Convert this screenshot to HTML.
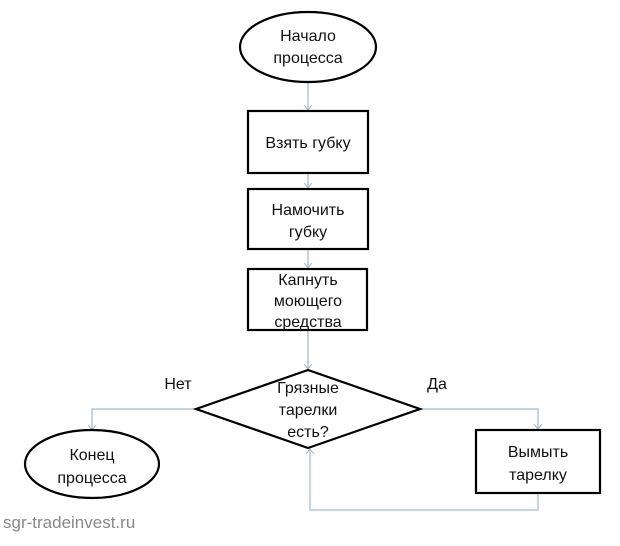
<!DOCTYPE html>
<html><head><meta charset="utf-8"><style>body{margin:0;background:#fff}</style></head><body>
<svg width="620" height="541" xmlns="http://www.w3.org/2000/svg" font-family="Liberation Sans, DejaVu Sans, sans-serif">
<defs><marker id="a" markerWidth="10" markerHeight="10" refX="8" refY="5" orient="auto" markerUnits="userSpaceOnUse"><path d="M3,1 L8,5 L3,9" fill="none" stroke="#9fb3c8" stroke-width="1"/></marker></defs>
<g stroke="#a8bccf" stroke-width="1.3" fill="none">
<line x1="308" y1="82" x2="308" y2="110" marker-end="url(#a)"/>
<line x1="308" y1="173" x2="308" y2="188" marker-end="url(#a)"/>
<line x1="308" y1="249" x2="308" y2="268" marker-end="url(#a)"/>
<line x1="308" y1="330" x2="308" y2="369" marker-end="url(#a)"/>
<polyline points="196,409 92,409 92,430" marker-end="url(#a)"/>
<polyline points="420,409 538,409 538,429" marker-end="url(#a)"/>
<polyline points="538,493 538,510 310,510 310,449" marker-end="url(#a)"/>
</g>
<g stroke="#000" stroke-width="2.2" fill="#fff">
<ellipse cx="308" cy="47" rx="68" ry="35"/>
<rect x="248" y="111" width="120" height="62"/>
<rect x="248" y="189" width="120" height="60"/>
<rect x="248" y="269" width="119" height="61"/>
<polygon points="196,409 308,370 420,409 308,448"/>
<ellipse cx="92" cy="464" rx="67" ry="34"/>
<rect x="476" y="430" width="124" height="63"/>
</g>
<g font-size="16" text-anchor="middle" fill="#111">
<text x="308" y="41">Начало</text><text x="308" y="63">процесса</text>
<text x="308" y="148">Взять губку</text>
<text x="308" y="215">Намочить</text><text x="308" y="237">губку</text>
<text x="308" y="285">Капнуть</text><text x="308" y="306">моющего</text><text x="308" y="327">средства</text>
<text x="308" y="393">Грязные</text><text x="308" y="415">тарелки</text><text x="308" y="437">есть?</text>
<text x="178" y="389">Нет</text><text x="437" y="389">Да</text>
<text x="92" y="460">Конец</text><text x="92" y="483">процесса</text>
<text x="538" y="457">Вымыть</text><text x="538" y="480">тарелку</text>
</g>
<text x="3" y="528" font-size="17" fill="#888">sgr-tradeinvest.ru</text>
</svg>
</body></html>
